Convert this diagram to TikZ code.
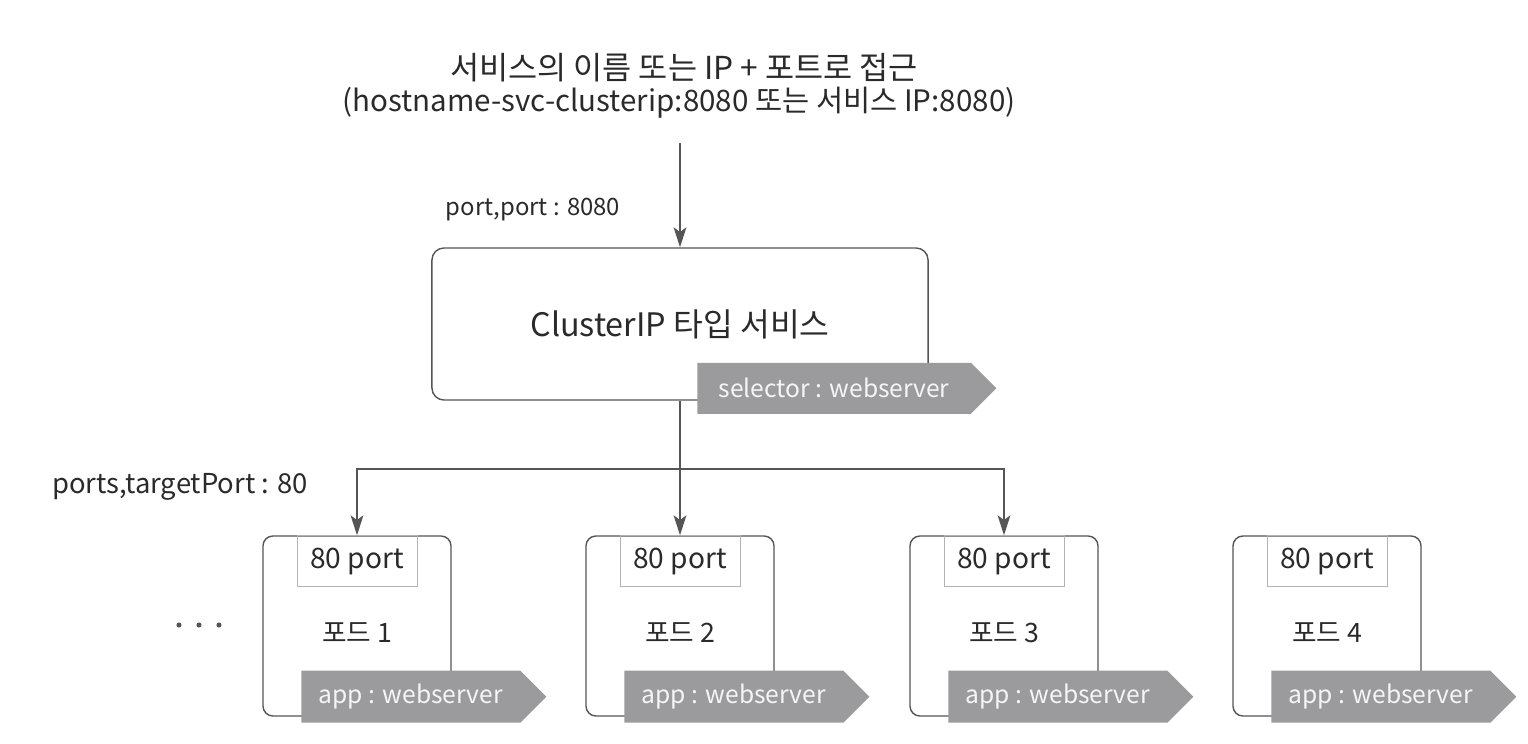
\documentclass[tikz,border=0pt]{standalone}
\usepackage{fontspec}
\setmainfont{Noto Sans CJK KR}
\usetikzlibrary{positioning,shapes.symbols,arrows.meta}
\definecolor{linegray}{HTML}{555555}
\definecolor{taggray}{HTML}{9B9B9D}
\definecolor{textdark}{HTML}{2A2A2A}
\newcommand{\fsz}[1]{\fontsize{#1}{#1}\selectfont}
\begin{document}
\begin{tikzpicture}[x=0.025cm,y=-0.025cm,
		font=\fsz{18}, text=textdark,
		svcbox/.style={draw=linegray,line width=1pt,rounded corners=0.3cm,minimum width=12.4cm,minimum height=3.8cm,font=\fsz{23}},
		podbox/.style={draw=linegray,line width=1pt,rounded corners=0.25cm,minimum width=4.7cm,minimum height=4.5cm},
		portbox/.style={draw=gray!60,line width=0.6pt,minimum width=3cm,minimum height=1.275cm,anchor=north,font=\fsz{20}},
		tag/.style={signal,signal to=east,fill=taggray,text=white!92!gray,anchor=west,inner sep=0pt,font=\fsz{17.5}},
		conn/.style={draw=linegray,line width=1pt,-{Stealth[length=5mm,width=3.2mm,inset=1.2mm]}}]
		\useasboundingbox (0,0) rectangle (1528,744);
		\node[font=\fsz{22.5}] (title1) at (684,68) {서비스의 이름 또는 IP + 포트로 접근};
		\node[font=\fsz{21}] (title2) at (679,103) {(hostname-svc-clusterip:8080 또는 서비스 IP:8080)};
		\coordinate (entry) at (680,143);
		\node[font=\fsz{17}] (portlabel) at (533,210) {port,port : 8080};
		\node[svcbox] (svc) at (680,324) {ClusterIP 타입 서비스};
		\node[tag,minimum width=7.475cm,minimum height=1.275cm,xshift=0.425cm,yshift=0.31cm] (selector) at (svc.south) {selector : webserver};
		\node[font=\fsz{19.5}] (targetlabel) at (180,487) {ports,targetPort : 80};
		\foreach \i/\x in {1/357,2/680,3/1004,4/1327} {
			\node[podbox] (pod\i) at (\x,626) {};
			\node[portbox] (port\i) at (pod\i.north) {80 port};
			\node[font=\fsz{19}] (podname\i) at ([yshift=-0.175cm]pod\i.center) {포드 \i};
			\node[tag,minimum width=6.125cm,minimum height=1.3cm,xshift=-1.4cm,yshift=0.5cm] (app\i) at (pod\i.south) {app : webserver};
		}
		\foreach \k in {0,1,2}
			\fill[linegray] (179+20*\k,625) circle (1.8pt);
		\coordinate (split) at (680,469);
		\draw[conn] (entry) -- (svc.north);
		\draw[draw=linegray,line width=1pt] (svc.south) -- (split);
		\draw[conn] (split) -| (pod1.north);
		\draw[conn] (split) -- (pod2.north);
		\draw[conn] (split) -| (pod3.north);
\end{tikzpicture}
\end{document}
